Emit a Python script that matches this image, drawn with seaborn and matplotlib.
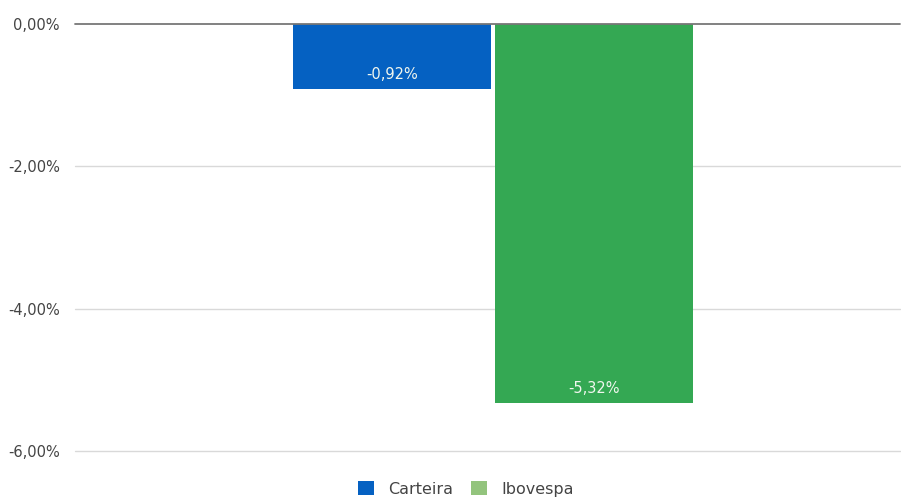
import matplotlib
matplotlib.use("Agg")
import matplotlib.pyplot as plt
import seaborn as sns
import pandas as pd
from matplotlib.patches import Patch

categories = [""]
series = ["Carteira", "Ibovespa"]
values = [-0.92, -5.32]
labels = ["-0,92%", "-5,32%"]
bar_colors = ["#0561c2", "#34a853"]
legend_colors = ["#0561c2", "#93c47d"]
yticks = [0, -2, -4, -6]
ytick_labels = ["0,00%", "-2,00%", "-4,00%", "-6,00%"]

sns.set_theme(style="white")
plt.rcParams['font.family'] = ['DejaVu Sans']

df = pd.DataFrame({"cat": categories * len(series), "serie": series, "val": values})

fig = plt.figure(figsize=(9.01, 4.98), dpi=100)
ax = fig.add_axes([75/901, 1-451/498, 825/901, (451-24)/498])

sns.barplot(data=df, x="cat", y="val", hue="serie", palette=bar_colors,
            width=0.49, gap=0.02, ax=ax, legend=False, saturation=1)

for p, lab in zip(ax.patches, labels):
    x = p.get_x() + p.get_width()/2
    bottom = min(p.get_y(), p.get_y() + p.get_height())
    ax.annotate(lab, (x, bottom), xytext=(0, 10.5), textcoords="offset points",
                ha="center", va="center", color="#f0f6ee", fontsize=10.5)
    p.set_edgecolor("none")

ax.set_ylim(-6, 0)
ax.set_xlim(-0.507, 0.493)
ax.set_yticks(yticks)
ax.set_yticklabels(ytick_labels, color="#444444", fontsize=10.5)
ax.set_xticks([])
ax.set_xlabel("")
ax.set_ylabel("")
for y in yticks[1:]:
    ax.axhline(y, color="#d9d9d9", lw=1, zorder=0, clip_on=False)
ax.axhline(0, color="#777777", lw=1.3, zorder=3, clip_on=False)
for s in ax.spines.values():
    s.set_visible(False)
ax.tick_params(axis="y", length=0, pad=11)

handles = [Patch(facecolor=c, edgecolor="none") for c in legend_colors]
fig.legend(handles, series, loc="center", bbox_to_anchor=(466/901, 1-489/498),
           ncol=2, frameon=False, fontsize=11.5, handlelength=1.0, handleheight=1.0,
           handletextpad=0.9, columnspacing=1.1, labelcolor="#444444")

fig.savefig("out.png", dpi=100)
